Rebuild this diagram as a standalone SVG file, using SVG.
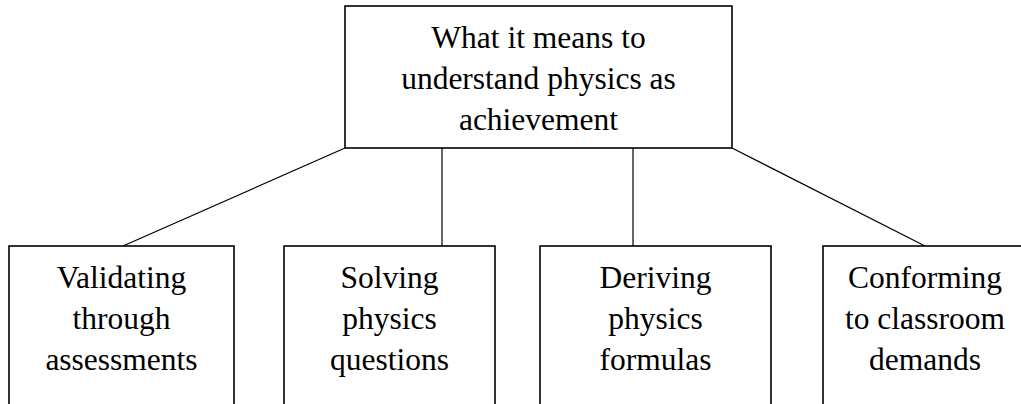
<svg xmlns="http://www.w3.org/2000/svg" width="1021" height="404" viewBox="0 0 1021 404">
<style>
.box{fill:#fff;stroke:#000;stroke-width:1.6}
.t{font-family:"Liberation Serif","Times New Roman",serif;font-size:31.5px;fill:#000;text-anchor:middle}
.c{stroke:#000;stroke-width:1.2;fill:none}
</style>
<rect width="1021" height="404" fill="#fff"/>
<g id="connectors">
<line class="c" x1="345" y1="148" x2="123" y2="246"/>
<line class="c" x1="442" y1="148" x2="442" y2="246"/>
<line class="c" x1="633" y1="148" x2="633" y2="246"/>
<line class="c" x1="732" y1="148" x2="925" y2="246"/>
</g>
<g id="root">
<rect class="box" x="345" y="6" width="387" height="142"/>
<text class="t" x="538.5" y="48">What it means to</text>
<text class="t" x="538.5" y="89">understand physics as</text>
<text class="t" x="538.5" y="130">achievement</text>
</g>
<g id="validating">
<rect class="box" x="9" y="246" width="225" height="170"/>
<text class="t" x="121.5" y="288">Validating</text>
<text class="t" x="121.5" y="329">through</text>
<text class="t" x="121.5" y="370">assessments</text>
</g>
<g id="solving">
<rect class="box" x="284" y="246" width="211" height="170"/>
<text class="t" x="389.5" y="288">Solving</text>
<text class="t" x="389.5" y="329">physics</text>
<text class="t" x="389.5" y="370">questions</text>
</g>
<g id="deriving">
<rect class="box" x="540" y="246" width="231" height="170"/>
<text class="t" x="655.5" y="288">Deriving</text>
<text class="t" x="655.5" y="329">physics</text>
<text class="t" x="655.5" y="370">formulas</text>
</g>
<g id="conforming">
<rect class="box" x="823" y="246" width="204" height="170"/>
<text class="t" x="925" y="288">Conforming</text>
<text class="t" x="925" y="329">to classroom</text>
<text class="t" x="925" y="370">demands</text>
</g>
</svg>
